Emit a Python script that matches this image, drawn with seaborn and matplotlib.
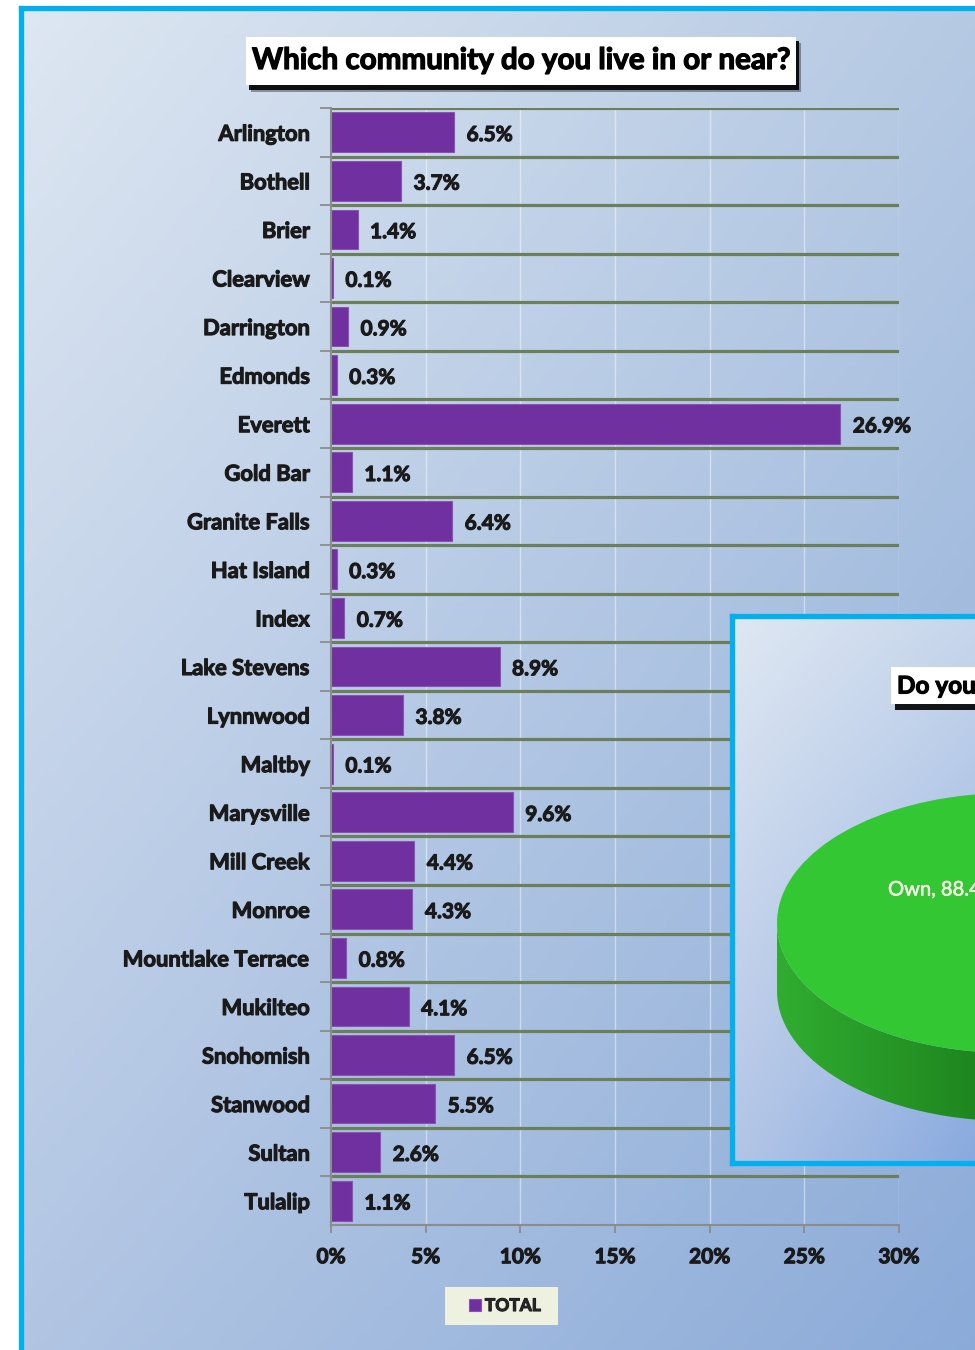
import numpy as np
import pandas as pd
import matplotlib
matplotlib.use("Agg")
import matplotlib.pyplot as plt
import seaborn as sns
import matplotlib.patheffects as pe
from matplotlib.patches import Rectangle, PathPatch
from matplotlib.path import Path
from matplotlib.colors import to_rgb

# data
communities = ["Arlington", "Bothell", "Brier", "Clearview", "Darrington", "Edmonds",
               "Everett", "Gold Bar", "Granite Falls", "Hat Island", "Index",
               "Lake Stevens", "Lynnwood", "Maltby", "Marysville", "Mill Creek",
               "Monroe", "Mountlake Terrace", "Mukilteo", "Snohomish", "Stanwood",
               "Sultan", "Tulalip"]
share = [6.5, 3.7, 1.4, 0.1, 0.9, 0.3, 26.9, 1.1, 6.4, 0.3, 0.7, 8.9, 3.8, 0.1,
         9.6, 4.4, 4.3, 0.8, 4.1, 6.5, 5.5, 2.6, 1.1]
x_ticks = [0, 5, 10, 15, 20, 25, 30]
tenure = ["Own", "Rent"]
tenure_share = [88.4, 11.6]

sns.set_theme(style="white")
plt.rcParams['font.family'] = ['Lato', 'DejaVu Sans']

W, H = 975, 1350
fig = plt.figure(figsize=(9.75, 13.5), dpi=100, facecolor="white")

heavy = [pe.withStroke(linewidth=0.8, foreground="#1a1a1a")]


def box(x0, y0, x1, y1):
    return [x0 / W, 1 - y1 / H, (x1 - x0) / W, (y1 - y0) / H]


def rect(x0, y0, x1, y1, **kw):
    r = Rectangle((x0 / W, 1 - y1 / H), (x1 - x0) / W, (y1 - y0) / H,
                  transform=fig.transFigure, lw=0, **kw)
    fig.add_artist(r)
    return r


def gradient(ax, tl, tr, bl, br):
    u, v = np.meshgrid(np.linspace(0, 1, 200), np.linspace(0, 1, 200))
    u, v = u[..., None], v[..., None]
    img = ((1 - u) * (1 - v) * to_rgb(tl) + u * (1 - v) * to_rgb(tr)
           + (1 - u) * v * to_rgb(bl) + u * v * to_rgb(br))
    ax.imshow(img, extent=(0, 1, 0, 1), aspect="auto", origin="upper")
    ax.set_xlim(0, 1)
    ax.set_ylim(0, 1)
    ax.set_xticks([])
    ax.set_yticks([])


# outer background + border
bg = fig.add_axes(box(20.5, 7.5, 990, 1360), zorder=0)
gradient(bg, "#dee7f2", "#b5c9e3", "#b1c5e3", "#8aaad8")
for s in ["right", "bottom"]:
    bg.spines[s].set_visible(False)
for s in ["left", "top"]:
    bg.spines[s].set_color("#00b0f0")
    bg.spines[s].set_linewidth(3.8)

# main bar chart
ax = fig.add_axes(box(331, 108, 899, 1225), zorder=2)
ax.patch.set_alpha(0)
df = pd.DataFrame({"community": communities, "share": share})
sns.barplot(data=df, x="share", y="community", orient="h", color="#7030a0",
            saturation=1, width=0.82, label="TOTAL", edgecolor="#8a52b5",
            linewidth=0.8, ax=ax)
if ax.get_legend() is not None:
    ax.get_legend().remove()

ax.set_xlim(0, 30)
ax.set_ylim(22.5, -0.5)
ax.set_xticks(x_ticks)
ax.set_xticklabels([f"{t}%" for t in x_ticks])
ax.set_yticks(np.arange(-0.5, 22, 1), minor=True)
ax.set_xlabel("")
ax.set_ylabel("")
ax.grid(axis="y", which="minor", color="#6b7f5a", lw=2.3)
ax.grid(axis="y", which="major", visible=False)
ax.grid(axis="x", which="major", color="white", alpha=0.45, lw=1)
ax.set_axisbelow(True)
ax.tick_params(axis="y", which="minor", left=True, length=8, width=1.3, color="#8c8c8c")
ax.tick_params(axis="y", which="major", left=False, length=0, pad=15,
               labelsize=15.8, labelcolor="#1a1a1a")
ax.tick_params(axis="x", which="major", bottom=True, length=6, width=1.3,
               color="#8c8c8c", pad=10, labelsize=15, labelcolor="#1a1a1a")
for lbl in ax.get_yticklabels() + ax.get_xticklabels():
    lbl.set_fontweight("bold")
    lbl.set_path_effects(heavy)
for s in ["top", "right"]:
    ax.spines[s].set_visible(False)
for s in ["left", "bottom"]:
    ax.spines[s].set_color("#8c8c8c")
    ax.spines[s].set_linewidth(1.5)

vals = ax.bar_label(ax.containers[0], labels=[f"{v:.1f}%" for v in share], padding=9,
                    fontsize=15, fontweight="bold", color="#1a1a1a")
for txt in vals:
    txt.set_path_effects(heavy)
    txt.xyann = (9, -2)

# title box with shadow
rect(251, 43, 801, 92, color="black", alpha=0.35, zorder=3)
rect(249, 41, 799, 90, color="black", alpha=0.9, zorder=3)
rect(246, 37, 796, 85, color="white", zorder=3)
fig.text(521 / W, 1 - 60 / H, "Which community do you live in or near?",
         ha="center", va="center", fontsize=21.3, fontweight="bold",
         color="black", zorder=4, path_effects=[pe.withStroke(linewidth=0.9, foreground="black")])

# legend
rect(445, 1287, 558, 1325, color="#eef1df", zorder=3)
handles, labels = ax.get_legend_handles_labels()
if not handles:
    handles, labels = [Rectangle((0, 0), 1, 1, color="#7030a0")], ["TOTAL"]
leg = fig.legend(handles, labels, loc="center", bbox_to_anchor=(505 / W, 1 - 1306 / H),
                 frameon=False, prop=dict(weight="bold", size=12.5), handlelength=0.7,
                 handleheight=0.7, handletextpad=0.2, borderpad=0, borderaxespad=0)
for txt in leg.get_texts():
    txt.set_path_effects(heavy)

# inset pie chart panel (partly off the page)
ins = fig.add_axes(box(731.5, 615.5, 990, 1162.5), zorder=5)
gradient(ins, "#dfe8f3", "#c6d5eb", "#b2c5e6", "#86a8de")
ins.spines["right"].set_visible(False)
for s in ["left", "top", "bottom"]:
    ins.spines[s].set_color("#00b0f0")
    ins.spines[s].set_linewidth(3.8)

rect(895, 672, 1000, 710, color="black", alpha=0.9, zorder=7)
rect(891, 667, 1000, 704, color="white", zorder=7)
fig.text(897 / W, 1 - 686 / H, "Do you own or rent your home?", ha="left",
         va="center", fontsize=17.5, fontweight="bold", color="black", zorder=8,
         path_effects=[pe.withStroke(linewidth=0.8, foreground="black")])

cx, a, cy, h, d = 1010, 233, 923, 130, 68
pax = fig.add_axes(box(cx - a, cy - h, cx + a, cy + h + d), zorder=6)
pax.patch.set_alpha(0)
own_angle = tenure_share[0] / sum(tenure_share) * 360
pax.pie(tenure_share, colors=["#33c733", "#c0504d"], startangle=180 - own_angle / 2,
        counterclock=True, radius=1, center=(0, 0), wedgeprops=dict(lw=0))
pax.set_aspect("auto")
pax.axis("off")

t = np.linspace(np.pi, 2 * np.pi, 100)
side = np.vstack([np.c_[np.cos(t), np.sin(t) - d / h],
                  [[1, 0]],
                  np.c_[np.cos(t[::-1]), np.sin(t[::-1])],
                  [[-1, 0]]])
clip = PathPatch(Path(side), transform=pax.transData, facecolor="none", lw=0)
pax.add_patch(clip)
xs = np.linspace(-1, 1, 200)
side_cols = np.array([np.interp(xs, [-1, -0.15, 1], [c0, c1, c2]) for c0, c1, c2 in
                      zip(to_rgb("#30ad30"), to_rgb("#1f861f"), to_rgb("#2a9a2a"))]).T
simg = pax.imshow(np.repeat(side_cols[None], 2, axis=0), extent=(-1, 1, -1 - d / h, 0),
                  aspect="auto", zorder=0)
simg.set_clip_path(clip)
pax.set_xlim(-1, 1)
pax.set_ylim(-1 - d / h, 1)

fig.text(888 / W, 1 - 890 / H, f"{tenure[0]}, {tenure_share[0]:.1f}%", ha="left",
         va="center", fontsize=14.5, color="#f4f4e6", zorder=9,
         path_effects=[pe.withStroke(linewidth=0.4, foreground="#f4f4e6")])

fig.savefig("out.png", dpi=100, facecolor="white")
